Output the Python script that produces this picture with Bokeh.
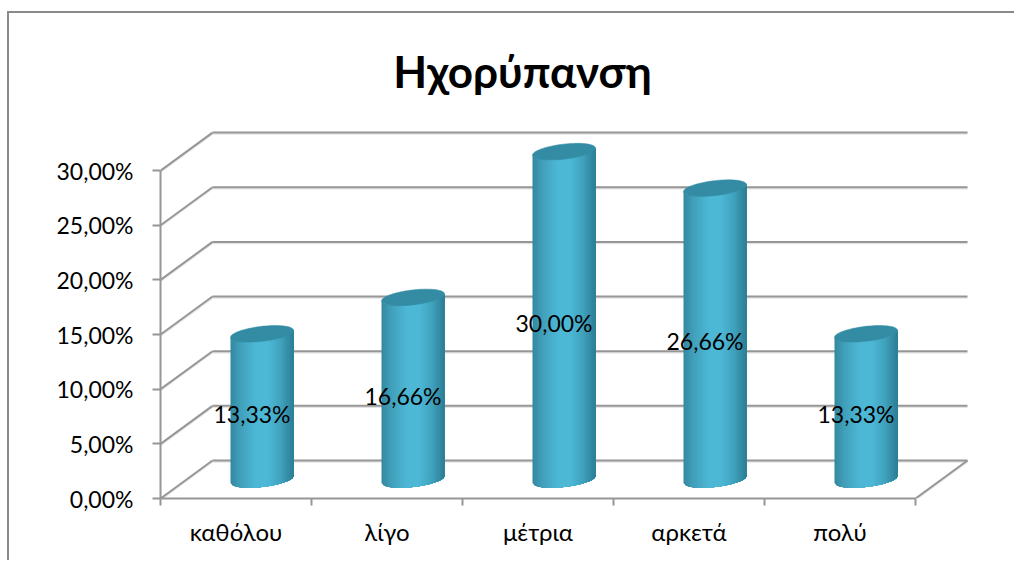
import numpy as np
from bokeh.plotting import figure
from bokeh.embed import file_html
from bokeh.resources import INLINE
from bokeh.models import FixedTicker, Range1d, Label
from bokeh.core.properties import value

TITLE = "Ηχορύπανση"
categories = ["καθόλου", "λίγο", "μέτρια", "αρκετά", "πολύ"]
values = [13.33, 16.66, 30.00, 26.66, 13.33]
value_labels = ["13,33%", "16,66%", "30,00%", "26,66%", "13,33%"]
y_ticks = [0, 5, 10, 15, 20, 25, 30]
y_tick_labels = ["0,00%", "5,00%", "10,00%", "15,00%", "20,00%", "25,00%", "30,00%"]

FONT = "Lato"
GRID = "#969696"
SHADOW = "#e4e4e4"
TOP_COLOR = "#338ca4"
SHADE_STOPS = [-1.0, -0.7, -0.2, 0.2, 0.6, 1.0]
SHADE_R = [0x33, 0x41, 0x4d, 0x4d, 0x40, 0x2c]
SHADE_G = [0x88, 0x9f, 0xb8, 0xb8, 0xa2, 0x7d]
SHADE_B = [0xa0, 0xba, 0xd6, 0xd6, 0xbd, 0x94]

PX_X, PX_Y = 151.0, 10.93          # pixels per category / per percent point
FRAME_W, FRAME_H = 812, 484
DX, DY = 52 / PX_X, 38 / PX_Y      # depth of the 3D box, in data units
A, B, TILT = 31.5 / PX_X, 7.5 / PX_Y, 3.5 / PX_Y  # cylinder ellipse
n = len(categories)

p = figure(output_backend="svg", toolbar_location=None,
           x_range=Range1d(0, FRAME_W / PX_X), y_range=Range1d(0, FRAME_H / PX_Y),
           frame_width=FRAME_W, frame_height=FRAME_H,
           min_border_left=151, min_border_right=42, min_border_top=1, min_border_bottom=62,
           background_fill_color="white", border_fill_color="white")
p.outline_line_color = None
p.grid.visible = False
p.margin = (11, 0, 0, 7)
p.styles = {"border-top": "2px solid #8a8a8a", "border-left": "2px solid #8a8a8a"}

# title, placed relative to the frame
p.add_layout(Label(x=362, y=428, x_units="screen", y_units="screen",
                   text=TITLE, text_font=FONT, text_font_size="44px", text_font_style="bold",
                   text_color="black", text_align="center", text_baseline="middle"))

# walls and floor
for col, w, off in ((SHADOW, 1.5, -1.5 / PX_Y), (GRID, 2, 0)):
    xs, ys = [], []
    for v in y_ticks:
        xs += [[0, DX], [DX, n + DX]]
        ys += [[v + off, v + DY + off], [v + DY + off, v + DY + off]]
    xs.append([n, n + DX]); ys.append([off, DY + off])
    p.multi_line(xs, ys, line_color=col, line_width=w)

# cylinders, shaded by strips painted left to right, each reaching the right edge
ts = np.linspace(-1, 1, 43)
for i, v in enumerate(values):
    cx = i + 0.5 + DX / 2
    base = DY / 2
    for t0, t1 in zip(ts[:-1], ts[1:]):
        tt = np.linspace(t0, 1, 30)
        arc = base - B * np.sqrt(np.clip(1 - tt ** 2, 0, 1)) + TILT * tt
        xx = cx + A * tt
        tm = (t0 + t1) / 2
        c = "#%02x%02x%02x" % tuple(int(np.interp(tm, SHADE_STOPS, s)) for s in (SHADE_R, SHADE_G, SHADE_B))
        px = list(xx) + list(xx[::-1])
        py = list(arc) + list((arc + v)[::-1])
        p.patch(px, py, fill_color=c, line_color=None)
    th = np.linspace(0, 2 * np.pi, 80)
    p.patch(cx + A * np.cos(th), base + v + B * np.sin(th) + TILT * np.cos(th),
            fill_color=TOP_COLOR, line_color=TOP_COLOR, line_width=0.5)

# data labels
p.text([i + 0.5 + 16 / PX_X for i in range(n)], [v / 2 + 1.05 for v in values], text=value_labels,
       text_font=value(FONT), text_font_size="23px", text_color="black",
       text_align="center", text_baseline="middle")

# axes
p.yaxis.bounds = (0, 30)
p.yaxis.ticker = FixedTicker(ticks=y_ticks)
p.yaxis.major_label_overrides = dict(zip(y_ticks, y_tick_labels))
p.yaxis.axis_line_color = GRID
p.yaxis.axis_line_width = 2
p.yaxis.major_tick_line_color = GRID
p.yaxis.major_tick_line_width = 2
p.yaxis.major_tick_out = 8
p.yaxis.major_tick_in = 0
p.yaxis.minor_tick_line_color = None
p.yaxis.major_label_standoff = 19
p.yaxis.major_label_text_font = FONT
p.yaxis.major_label_text_font_size = "23px"
p.yaxis.major_label_text_color = "black"

pos = [i + 0.5 for i in range(n)]
p.xaxis.bounds = (0, n)
p.xaxis.ticker = FixedTicker(ticks=pos, minor_ticks=list(range(n + 1)))
p.xaxis.major_label_overrides = dict(zip(pos, categories))
p.xaxis.axis_line_color = GRID
p.xaxis.axis_line_width = 2
p.xaxis.major_tick_line_color = None
p.xaxis.major_tick_out = 0
p.xaxis.major_tick_in = 0
p.xaxis.minor_tick_line_color = GRID
p.xaxis.minor_tick_line_width = 2
p.xaxis.minor_tick_out = 7
p.xaxis.minor_tick_in = 0
p.xaxis.major_label_standoff = 11
p.xaxis.major_label_text_font = FONT
p.xaxis.major_label_text_font_size = "24px"
p.xaxis.major_label_text_color = "black"

open("out.html", "w").write(file_html(p, INLINE))
